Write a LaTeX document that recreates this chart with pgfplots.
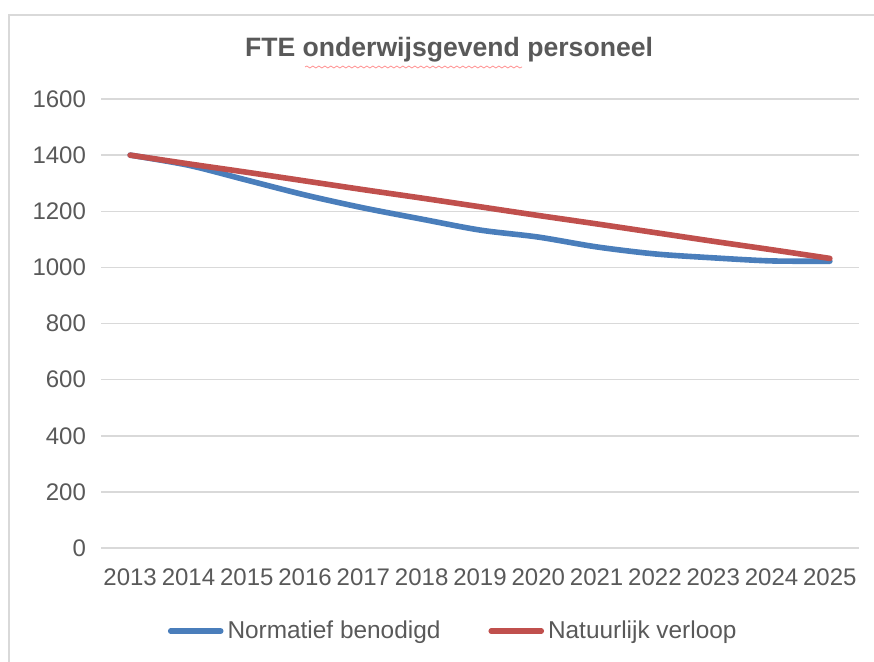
\documentclass[border=0pt]{standalone}
\usepackage{pgfplots}
\pgfplotsset{compat=1.18}
\usepackage{fontspec}
\setmainfont{Liberation Sans}
\usetikzlibrary{decorations.pathmorphing}
\definecolor{txtgray}{RGB}{89,89,89}
\definecolor{gridgray}{RGB}{217,217,217}
\definecolor{frame}{RGB}{217,217,217}
\definecolor{sblue}{RGB}{74,126,187}
\definecolor{sred}{RGB}{192,80,77}
\begin{document}
\begin{tikzpicture}
\useasboundingbox (0pt,0pt) rectangle (437pt,330.5pt);
\begin{scope}
\clip (0pt,0pt) rectangle (437pt,330.5pt);
\draw[frame, line width=0.8pt] (4.5pt,-3pt) -- (4.5pt,323pt) -- (440pt,323pt);
\end{scope}
\node[text=txtgray, font=\fontsize{13.3}{16}\selectfont\bfseries] at (224.5pt,305.5pt) {FTE onderwijsgevend personeel};
\draw[red!45, line width=0.35pt, decorate, decoration={snake, amplitude=0.5pt, segment length=3pt}] (152.5pt,297pt) -- (261pt,297pt);
\begin{axis}[
  at={(50.5pt,56.5pt)}, anchor=south west,
  scale only axis, width=379pt, height=224.5pt,
  xmin=-0.5, xmax=12.5, ymin=0, ymax=1600,
  axis line style={draw=none},
  ymajorgrids, grid style={gridgray, line width=0.75pt},
  ytick={0,200,...,1600},
  xtick={0,...,12},
  xticklabels={2013,2014,2015,2016,2017,2018,2019,2020,2021,2022,2023,2024,2025},
  xmajorgrids=false,
  tick style={draw=none},
  /pgf/number format/assume math mode=true,
  /pgf/number format/set thousands separator={},
  ticklabel style={text=txtgray, font=\fontsize{12}{14}\selectfont},
  yticklabel style={xshift=-4pt},
  xticklabel style={yshift=-7pt},
  legend columns=2,
  legend style={draw=none, fill=none, at={(0.466,-0.185)}, anchor=center,
    font=\fontsize{12.2}{14}\selectfont, text=txtgray,
    /tikz/every even column/.append style={column sep=22pt}},
  legend image code/.code={\draw[#1, line cap=round] (0pt,0pt) -- (25pt,0pt);},
]
\addplot[sblue, line width=2.8pt, smooth, line cap=round] coordinates {
(0,1400) (1,1364) (2,1311) (3,1258) (4,1212) (5,1172) (6,1133) (7,1108) (8,1073) (9,1048) (10,1034) (11,1023) (12,1022)};
\addlegendentry{Normatief benodigd}
\addplot[sred, line width=2.8pt, smooth, line cap=round] coordinates {
(0,1400) (1,1369) (2,1339) (3,1308) (4,1277) (5,1247) (6,1216) (7,1185) (8,1155) (9,1124) (10,1093) (11,1063) (12,1032)};
\addlegendentry{Natuurlijk verloop}
\end{axis}
\end{tikzpicture}
\end{document}
